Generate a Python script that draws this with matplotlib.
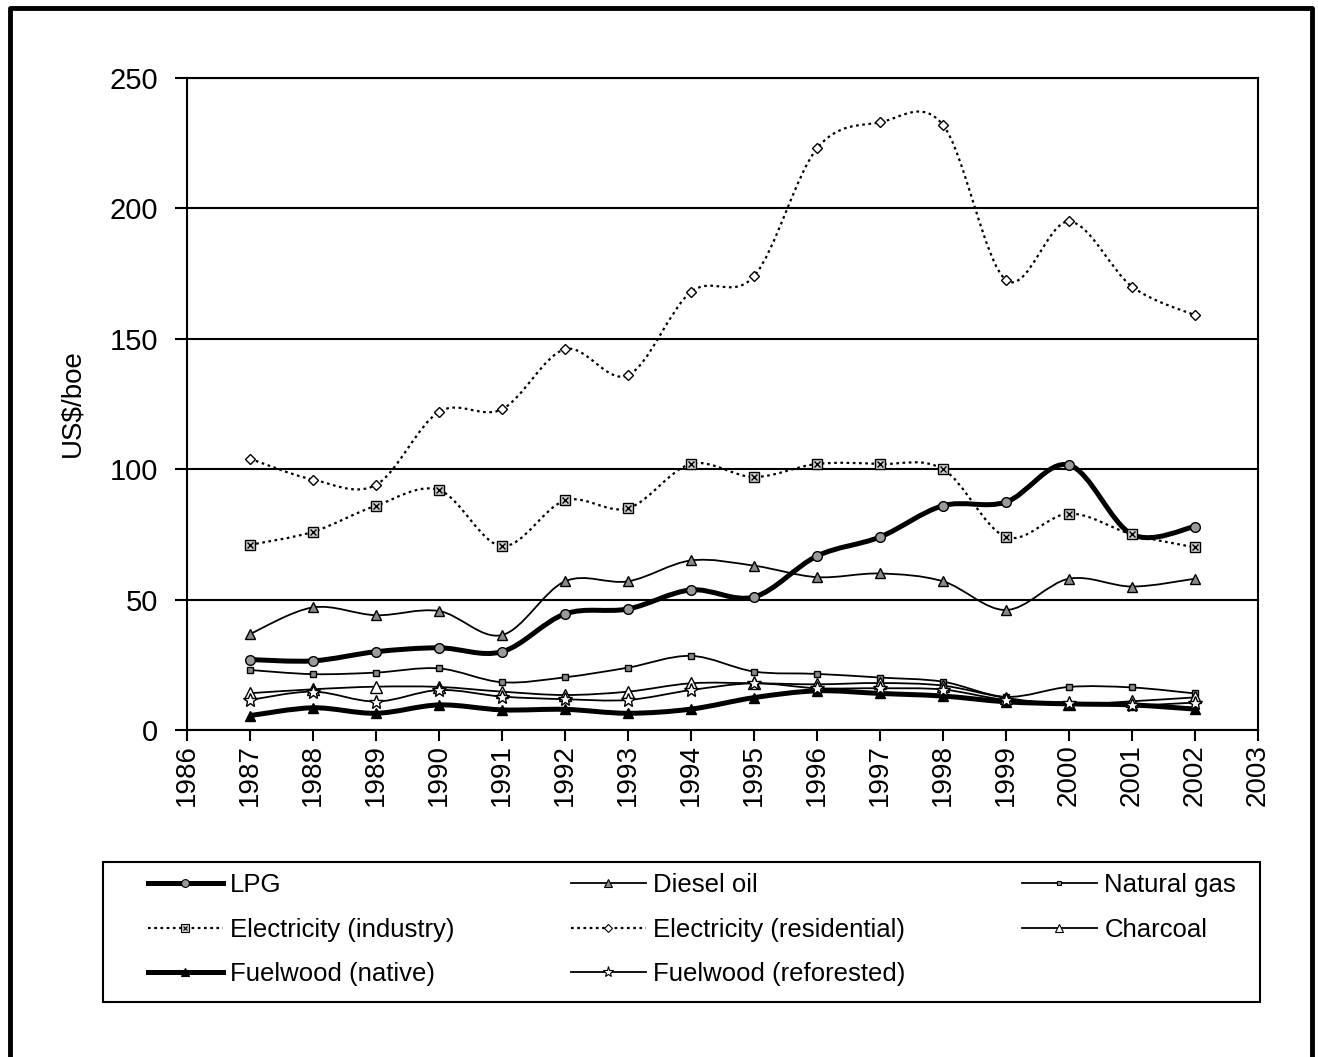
import numpy as np
import matplotlib
matplotlib.use('Agg')
import matplotlib.pyplot as plt
from matplotlib.path import Path
from matplotlib.patches import PathPatch, Rectangle
from matplotlib.lines import Line2D

plt.rcParams['font.family'] = ['Liberation Sans Narrow', 'Liberation Sans', 'DejaVu Sans']

# Energy prices, US$/boe
years = list(range(1987, 2003))
lpg = [27, 26.5, 30, 31.5, 30, 44.5, 46.4, 53.7, 51, 66.7, 74, 86, 87.4, 101.6, 75, 78]
diesel = [36.8, 47, 44, 45.6, 36.4, 57, 57, 65, 63, 58.6, 60, 57, 46, 58, 55, 58]
natural_gas = [23, 21.4, 22, 23.6, 18.3, 20.2, 23.9, 28.4, 22.4, 21.5, 20.1, 18.5, 12.7, 16.5, 16.3, 14]
elec_industry = [71, 76, 86, 92, 70.5, 88, 85, 102, 97, 102, 102, 100, 74, 83, 75, 70]
elec_residential = [104, 96, 94, 122, 123, 146, 136, 168, 174, 223, 233, 232, 172.5, 195, 170, 159]
charcoal = [14.1, 15.6, 16.6, 16.5, 14.7, 13.4, 14.7, 17.9, 17.9, 17.5, 18, 17, 12.3, 9.8, 11, 12.5]
fuelwood_native = [5.5, 8.5, 6.4, 9.6, 7.7, 7.9, 6.4, 8, 12.4, 15, 14, 13, 10.8, 10, 9.6, 8]
fuelwood_reforested = [11.5, 14.7, 10.9, 15.3, 12.8, 11.8, 11.5, 15.3, 17.9, 16, 16, 15.5, 11.5, 10.5, 9.5, 10.5]

x_ticks = list(range(1986, 2004))
y_ticks = [0, 50, 100, 150, 200, 250]

DOT = (0, (1.2, 1.6))

series = [
    # label, values, line width, line style, marker, marker size, marker face
    ('LPG', lpg, 3.6, '-', 'o', 7, '#9a9a9a'),
    ('Diesel oil', diesel, 1.3, '-', '^', 7, '#8a8a8a'),
    ('Natural gas', natural_gas, 1.3, '-', 's', 4, '#8a8a8a'),
    ('Electricity (industry)', elec_industry, 1.6, DOT, 's', 7, '#d0d0d0'),
    ('Electricity (residential)', elec_residential, 1.6, DOT, 'D', 5.5, 'white'),
    ('Charcoal', charcoal, 1.3, '-', '^', 8, 'white'),
    ('Fuelwood (native)', fuelwood_native, 3.6, '-', '^', 7.5, 'black'),
    ('Fuelwood (reforested)', fuelwood_reforested, 1.3, '-', '*', 10, 'white'),
]


def smooth_path(x, y):
    # cubic Bezier through every point, Catmull-Rom style control points
    pts = np.column_stack([x, y]).astype(float)
    n = len(pts)
    verts = [pts[0]]
    codes = [Path.MOVETO]
    for i in range(n - 1):
        p0 = pts[max(i - 1, 0)]
        p1 = pts[i]
        p2 = pts[i + 1]
        p3 = pts[min(i + 2, n - 1)]
        verts += [p1 + (p2 - p0) / 6, p2 - (p3 - p1) / 6, p2]
        codes += [Path.CURVE4] * 3
    return Path(verts, codes)


fig = plt.figure(figsize=(13.18, 10.57), dpi=100)
fig.patch.set_facecolor('white')
ax = fig.add_axes([0.1419, 0.3094, 0.8126, 0.6168])

handles = {}
for label, vals, lw, ls, mk, ms, mfc in series:
    ax.add_patch(PathPatch(smooth_path(years, vals), fill=False, ec='black',
                           lw=lw, ls=ls, zorder=3))
    ax.plot(years, vals, ls='none', marker=mk, ms=ms, mfc=mfc, mec='black',
            mew=1.0, zorder=4)
    h = Line2D([], [], color='black', lw=lw, ls=ls, marker=mk,
               ms=ms * 0.8, mfc=mfc, mec='black', mew=0.8)
    if label == 'Electricity (industry)':
        # crossed square marker
        ax.plot(years, vals, ls='none', marker='x', ms=ms * 0.6, mec='black',
                mew=1.0, zorder=5)
        h = (h, Line2D([], [], ls='none', marker='x', ms=ms * 0.5,
                       mec='black', mew=0.8))
    handles[label] = h

ax.set_xlim(1986, 2003)
ax.set_ylim(0, 250)
ax.set_xticks(x_ticks)
ax.set_xticklabels([str(y) for y in x_ticks], rotation=90)
ax.set_yticks(y_ticks)
ax.tick_params(axis='y', labelsize=21, length=9, width=1.5, pad=12)
ax.tick_params(axis='x', labelsize=20, length=8, width=1.5, pad=2)
ax.grid(axis='y', color='black', lw=1.5)
ax.set_axisbelow(True)
for spine in ax.spines.values():
    spine.set_linewidth(1.5)

fig.text(72 / 1318, 1 - 403 / 1057, 'US$/boe', rotation=90, ha='center',
         va='center', fontsize=20)

# legend laid out row by row, inside a separate box
order = ['LPG', 'Electricity (industry)', 'Fuelwood (native)',
         'Diesel oil', 'Electricity (residential)', 'Fuelwood (reforested)',
         'Natural gas', 'Charcoal']
leg = fig.legend([handles[k] for k in order], order, ncol=3, loc='upper left',
                 bbox_to_anchor=(148 / 1318, 0.10, 1088 / 1318, 1 - 873 / 1057 - 0.10),
                 mode='expand', fontsize=18.5, handlelength=2.9,
                 handletextpad=0.3, labelspacing=0.8, borderpad=0,
                 borderaxespad=0, frameon=False)
fig.add_artist(Rectangle((103 / 1318, 1 - 1002 / 1057), 1157 / 1318, 140 / 1057,
                         transform=fig.transFigure, fill=False, ec='black',
                         lw=1.5))

# outer chart border
fig.add_artist(Line2D([0.0076, 0.0076, 0.9954, 0.9954], [0, 0.9924, 0.9924, 0],
                      transform=fig.transFigure, color='black', lw=3.5))

fig.savefig('out.png', dpi=100)
